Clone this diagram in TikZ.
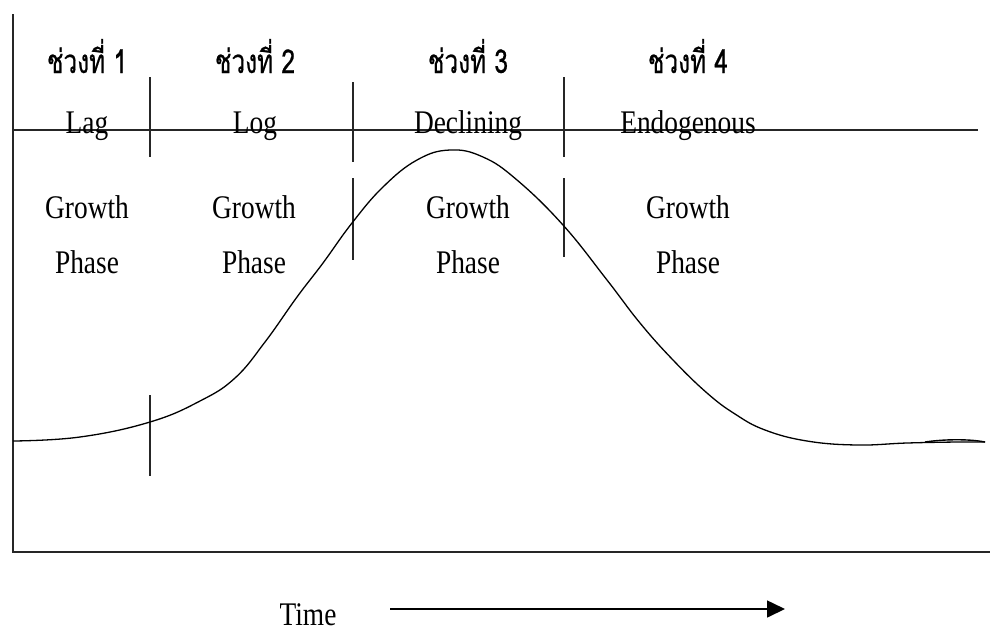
\documentclass[tikz,border=0pt]{standalone}
\usepackage{fontspec}
\setmainfont{Liberation Serif}[FakeStretch=0.83]
\newfontfamily\thaifont[Script=Thai,FakeStretch=0.74,FakeBold=0.6]{Loma}
\usetikzlibrary{arrows.meta}
\tikzset{
  axis/.style={line width=1.6pt,black!85},
  divider/.style={line width=1.5pt,black!85},
  growth/.style={line width=1.3pt,black},
  lbl/.style={anchor=base,inner sep=0pt,font=\fontsize{33}{36}\selectfont},
  thlbl/.style={anchor=base,inner sep=0pt,font=\thaifont\fontsize{33}{36}\selectfont},
}
\begin{document}
\begin{tikzpicture}[x=1pt,y=-1pt]
\useasboundingbox (0,0) rectangle (995,633);
% axes
\draw[axis] (13,14) -- (13,553);
\draw[axis] (13,552) -- (990,552);
\draw[axis] (13,130) -- (978,130);
% dividers
\draw[divider] (150,77) -- (150,157);
\draw[divider] (353,82) -- (353,162);
\draw[divider] (353,178) -- (353,260);
\draw[divider] (564,77) -- (564,157);
\draw[divider] (564,178) -- (564,257);
\draw[divider] (150,395) -- (150,476);
% curve
\draw[growth] plot[smooth,tension=0.7] coordinates {
 (13,441) (80,437) (150,422) (200,401) (235,378) (265,342) (297,297) (323,263)
 (352,223) (383,187) (417,160) (450,150) (483,157) (517,180) (563,225)
 (607,280) (640,323) (673,360) (707,393) (735,414) (765,430) (807,441)
 (857,445) (907,443) (957,442) (985,442)};
\draw[line width=1.4pt] (925,442) .. controls (945,439) and (970,439) .. (985,442);
% labels
\node[thlbl] (t1) at (87,73) {ช่วงที่ 1};
\node[thlbl] (t2) at (255,73) {ช่วงที่ 2};
\node[thlbl] (t3) at (468,73) {ช่วงที่ 3};
\node[thlbl] (t4) at (688,73) {ช่วงที่ 4};
\node[lbl] (p1) at (87,133) {Lag};
\node[lbl] (p2) at (255,133) {Log};
\node[lbl] (p3) at (468,133) {Declining};
\node[lbl] (p4) at (688,133) {Endogenous};
\node[lbl] (g1) at (87,218) {Growth};
\node[lbl] (g2) at (254,218) {Growth};
\node[lbl] (g3) at (468,218) {Growth};
\node[lbl] (g4) at (688,218) {Growth};
\node[lbl] (h1) at (87,273) {Phase};
\node[lbl] (h2) at (254,273) {Phase};
\node[lbl] (h3) at (468,273) {Phase};
\node[lbl] (h4) at (688,273) {Phase};
\node[lbl] (time) at (308,625) {Time};
\coordinate (as) at (390,609);
\coordinate (ae) at (785,609);
\draw[line width=1.6pt,-{Triangle[length=18pt,width=17pt]}] (as) -- (ae);
\end{tikzpicture}
\end{document}
